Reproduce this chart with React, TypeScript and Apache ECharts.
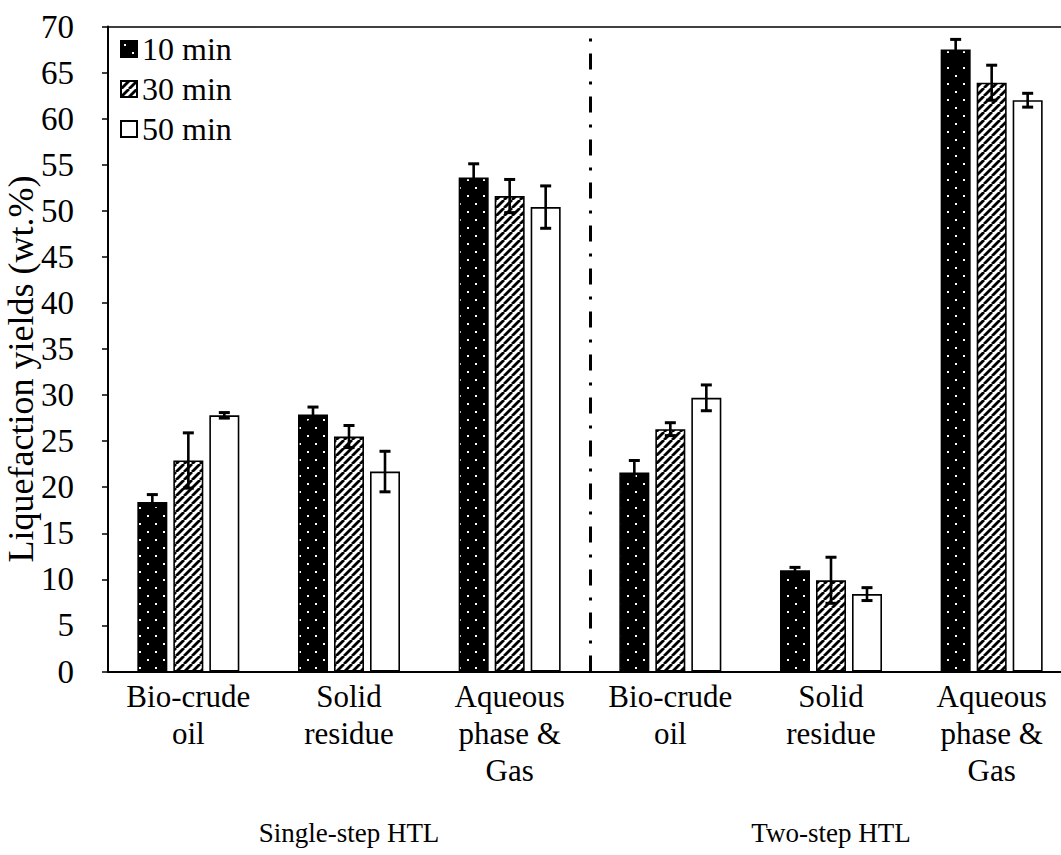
import React, { useEffect, useRef } from "react";
import * as echarts from "echarts";

// Product categories along the x axis (two groups of three)
const categories = [
  "Bio-crude\noil",
  "Solid\nresidue",
  "Aqueous\nphase &\nGas",
  "Bio-crude\noil",
  "Solid\nresidue",
  "Aqueous\nphase &\nGas",
];
const groupLabels = ["Single-step HTL", "Two-step HTL"];
const seriesNames = ["10 min", "30 min", "50 min"];
// Index of the category boundary between the two process groups
const groupBoundary = 3;

// Mean yields (wt.%) per reaction time
const yield10 = [18.4, 27.9, 53.6, 21.6, 11.0, 67.5];
const yield30 = [22.9, 25.5, 51.6, 26.3, 9.9, 63.9];
const yield50 = [27.8, 21.7, 50.4, 29.7, 8.4, 62.0];

// Standard deviations
const err10 = [0.8, 0.8, 1.5, 1.3, 0.3, 1.1];
const err30 = [3.0, 1.2, 1.8, 0.7, 2.5, 1.9];
const err50 = [0.3, 2.2, 2.3, 1.4, 0.7, 0.75];

const yTicks = { min: 0, max: 70, interval: 5 };

const FONT = "'Liberation Serif', 'Times New Roman', serif";
const BAR_W = 30;
const BAR_GAP = 6;

function dotPattern() {
  const c = document.createElement("canvas");
  c.width = 16;
  c.height = 16;
  const g = c.getContext("2d")!;
  g.fillStyle = "#000";
  g.fillRect(0, 0, 16, 16);
  g.fillStyle = "#fff";
  g.fillRect(3, 3, 2, 2);
  g.fillRect(11, 11, 2, 2);
  return { image: c, repeat: "repeat", imageWidth: 16, imageHeight: 16 } as any;
}

function hatchPattern() {
  const c = document.createElement("canvas");
  c.width = 8;
  c.height = 8;
  const g = c.getContext("2d")!;
  g.fillStyle = "#fff";
  g.fillRect(0, 0, 8, 8);
  g.strokeStyle = "#000";
  g.lineWidth = 2.8;
  for (const o of [-8, 0, 8]) {
    g.beginPath();
    g.moveTo(o, 8);
    g.lineTo(o + 8, 0);
    g.stroke();
  }
  return { image: c, repeat: "repeat", imageWidth: 8, imageHeight: 8 } as any;
}

function errorSeries(name: string, means: number[], errs: number[], idx: number) {
  const offset = (idx - 1) * (BAR_W + BAR_GAP);
  return {
    type: "custom",
    name: name + " sd",
    z: 5,
    data: means.map((m, i) => [i, m, errs[i]]),
    renderItem: (_params: any, api: any) => {
      const x = api.value(0);
      const v = api.value(1);
      const e = api.value(2);
      const top = api.coord([x, v + e]);
      const bot = api.coord([x, v - e]);
      const cx = top[0] + offset;
      const st = { stroke: "#000", lineWidth: 2.6 };
      const capSt = { stroke: "#000", lineWidth: 3 };
      return {
        type: "group",
        children: [
          { type: "line", shape: { x1: cx, y1: top[1], x2: cx, y2: bot[1] }, style: st },
          { type: "line", shape: { x1: cx - 5.5, y1: top[1], x2: cx + 5.5, y2: top[1] }, style: capSt },
          { type: "line", shape: { x1: cx - 5.5, y1: bot[1], x2: cx + 5.5, y2: bot[1] }, style: capSt },
        ],
      };
    },
  };
}

export default function App() {
  const ref = useRef<HTMLDivElement>(null);

  useEffect(() => {
    if (!ref.current) return;
    const chart = echarts.init(ref.current, undefined, { renderer: "svg" });
    const fills = [dotPattern(), hatchPattern(), "#fff"];
    const means = [yield10, yield30, yield50];
    const errs = [err10, err30, err50];

    const bars = seriesNames.map((n, i) => ({
      type: "bar",
      name: n,
      data: means[i],
      barWidth: BAR_W,
      barGap: `${(BAR_GAP / BAR_W) * 100}%`,
      itemStyle: { color: fills[i], borderColor: "#000", borderWidth: 1.6 },
    }));

    chart.setOption({
      animation: false,
      backgroundColor: "#fff",
      grid: { left: 108, top: 26.5, bottom: 183.5, right: 0, containLabel: false },
      legend: {
        data: seriesNames,
        orient: "vertical",
        left: 115,
        top: 28,
        icon: "rect",
        itemWidth: 16,
        itemHeight: 16,
        itemGap: 8,
        textStyle: { fontFamily: FONT, fontSize: 32, color: "#000" },
      },
      xAxis: [
        {
          type: "category",
          data: categories,
          axisLine: { lineStyle: { color: "#000", width: 2 } },
          axisTick: { show: false },
          axisLabel: {
            interval: 0,
            margin: 6,
            fontFamily: FONT,
            fontSize: 31,
            lineHeight: 37,
            color: "#000",
          },
          splitLine: { show: false },
        },
        {
          type: "category",
          data: categories,
          position: "top",
          axisLine: { show: true, lineStyle: { color: "#000", width: 1.6 } },
          axisTick: { show: false },
          axisLabel: { show: false },
          splitLine: { show: false },
        },
        {
          type: "value",
          min: 0,
          max: categories.length,
          show: false,
        },
      ],
      yAxis: {
        type: "value",
        min: yTicks.min,
        max: yTicks.max,
        interval: yTicks.interval,
        axisLine: { show: true, lineStyle: { color: "#000", width: 2 } },
        axisTick: { show: true, inside: false, length: 6, lineStyle: { color: "#000", width: 1.5 } },
        axisLabel: { margin: 34, fontFamily: FONT, fontSize: 33, color: "#000" },
        splitLine: { show: false },
      },
      graphic: [
        {
          type: "text",
          x: 21,
          y: 369,
          rotation: Math.PI / 2,
          style: {
            text: "Liquefaction yields (wt.%)",
            fontFamily: FONT,
            fontSize: 36,
            fill: "#000",
            align: "center",
            verticalAlign: "middle",
          },
        },
        {
          type: "text",
          x: 349,
          y: 833,
          style: { text: groupLabels[0], fontFamily: FONT, fontSize: 27, fill: "#000", align: "center", verticalAlign: "middle" },
        },
        {
          type: "text",
          x: 831,
          y: 833,
          style: { text: groupLabels[1], fontFamily: FONT, fontSize: 27, fill: "#000", align: "center", verticalAlign: "middle" },
        },
      ],
      series: [
        ...bars,
        ...seriesNames.map((n, i) => errorSeries(n, means[i], errs[i], i)),
        {
          type: "line",
          name: "group divider",
          xAxisIndex: 2,
          data: [[groupBoundary, 0]],
          showSymbol: false,
          symbol: "none",
          lineStyle: { opacity: 0 },
          silent: true,
          markLine: {
            silent: true,
            symbol: "none",
            label: { show: false },
            lineStyle: { color: "#000", width: 3, type: [16, 12, 3, 12] },
            data: [{ xAxis: groupBoundary }],
          },
        },
      ],
    });

    return () => chart.dispose();
  }, []);

  return (
    <div style={{ position: "fixed", left: 0, top: 0, width: 1061, height: 855, overflow: "hidden", background: "#fff" }}>
      <div ref={ref} style={{ width: 1072, height: 855 }} />
    </div>
  );
}
